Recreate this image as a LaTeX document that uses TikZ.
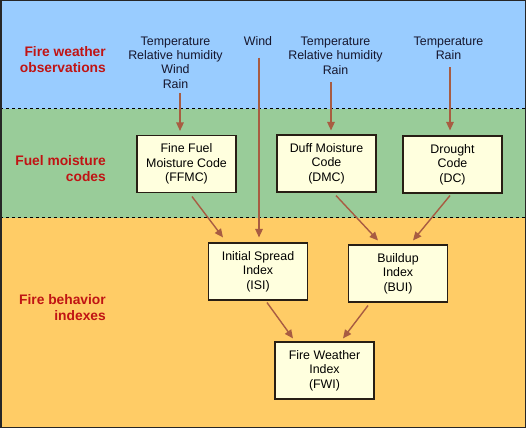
\documentclass[tikz,border=0pt]{standalone}
\usepackage{fontspec}
\setmainfont{Liberation Sans}
\usetikzlibrary{arrows.meta}
\definecolor{skyband}{RGB}{153,204,255}
\definecolor{greenband}{RGB}{153,204,153}
\definecolor{orangeband}{RGB}{255,204,102}
\definecolor{boxfill}{RGB}{255,255,222}
\definecolor{arrowcol}{RGB}{168,92,66}
\definecolor{labelred}{RGB}{192,20,20}
\definecolor{obstext}{RGB}{22,22,45}
\definecolor{boxline}{RGB}{40,30,20}
\tikzset{
  codebox/.style={draw=boxline, line width=1.1pt, fill=boxfill, minimum width=99pt, minimum height=57pt, inner sep=0pt, align=center, font=\fontsize{12.4}{14.3}\selectfont},
  obs/.style={inner sep=0pt, align=center, text=obstext, font=\fontsize{12.4}{14.3}\selectfont},
  bandlabel/.style={inner sep=0pt, anchor=east, align=right, text=labelred, font=\fontsize{13.8}{15.5}\selectfont\bfseries},
  arr/.style={draw=arrowcol, line width=1.4pt, -{Triangle[length=8.5pt,width=7.5pt]}},
  bandline/.style={draw=black, line width=1pt, dash pattern=on 3pt off 3pt}
}
\begin{document}
\begin{tikzpicture}[x=1pt,y=1pt]
\useasboundingbox (0,0) rectangle (526,428);
% bands
\fill[skyband] (0,319) rectangle (526,428);
\fill[greenband] (0,210) rectangle (526,319);
\fill[orangeband] (0,0) rectangle (526,210);
\draw[bandline] (0,319) -- (526,319);
\draw[bandline] (0,210) -- (526,210);
\draw[draw=black!85, line width=1.5pt] (0.75,0.75) rectangle (525.25,427.25);
% band labels
\node[bandlabel] (lab1) at (106,368.5) {Fire weather\\observations};
\node[bandlabel] (lab2) at (106,259.5) {Fuel moisture\\codes};
\node[bandlabel] (lab3) at (106,120.5) {Fire behavior\\indexes};
% observations
\node[obs] (col1) at (175.5,365.5) {Temperature\\Relative humidity\\Wind\\Rain};
\node[obs] (wind) at (258,387) {Wind};
\node[obs] (col3) at (335.5,372.5) {Temperature\\Relative humidity\\Rain};
\node[obs] (col4) at (448.5,379.5) {Temperature\\Rain};
% boxes
\node[codebox] (ffmc) at (186.5,264) {Fine Fuel\\Moisture Code\\(FFMC)};
\node[codebox] (dmc) at (326.5,264.5) {Duff Moisture\\Code\\(DMC)};
\node[codebox] (dc) at (452.5,263.5) {Drought\\Code\\(DC)};
\node[codebox] (isi) at (258,156.5) {Initial Spread\\Index\\(ISI)};
\node[codebox] (bui) at (398,154.5) {Buildup\\Index\\(BUI)};
\node[codebox] (fwi) at (324.5,57.5) {Fire Weather\\Index\\(FWI)};
% connectors
\draw[arr] ([xshift=4.5pt,yshift=-5pt]col1.south) -- ([xshift=-6.5pt,yshift=4pt]ffmc.north);
\draw[arr] ([xshift=1pt,yshift=-12pt]wind.south) -- ([xshift=1pt,yshift=5pt]isi.north);
\draw[arr] ([xshift=-4.5pt,yshift=-8pt]col3.south) -- ([xshift=4.5pt,yshift=4pt]dmc.north);
\draw[arr] ([xshift=1.5pt,yshift=-7pt]col4.south) -- ([xshift=-2.5pt,yshift=5pt]dc.north);
\draw[arr] ([xshift=5.5pt,yshift=-3.5pt]ffmc.south) -- ([xshift=-35pt,yshift=5pt]isi.north);
\draw[arr] ([xshift=9.5pt,yshift=-3pt]dmc.south) -- ([xshift=-20pt,yshift=4pt]bui.north);
\draw[arr] ([xshift=-2.5pt,yshift=-2pt]dc.south) -- ([xshift=15pt,yshift=4pt]bui.north);
\draw[arr] ([xshift=9pt,yshift=-2pt]isi.south) -- ([xshift=-31.5pt,yshift=3pt]fwi.north);
\draw[arr] ([xshift=-30pt,yshift=-3pt]bui.south) -- ([xshift=18.5pt,yshift=3pt]fwi.north);
\end{tikzpicture}
\end{document}
